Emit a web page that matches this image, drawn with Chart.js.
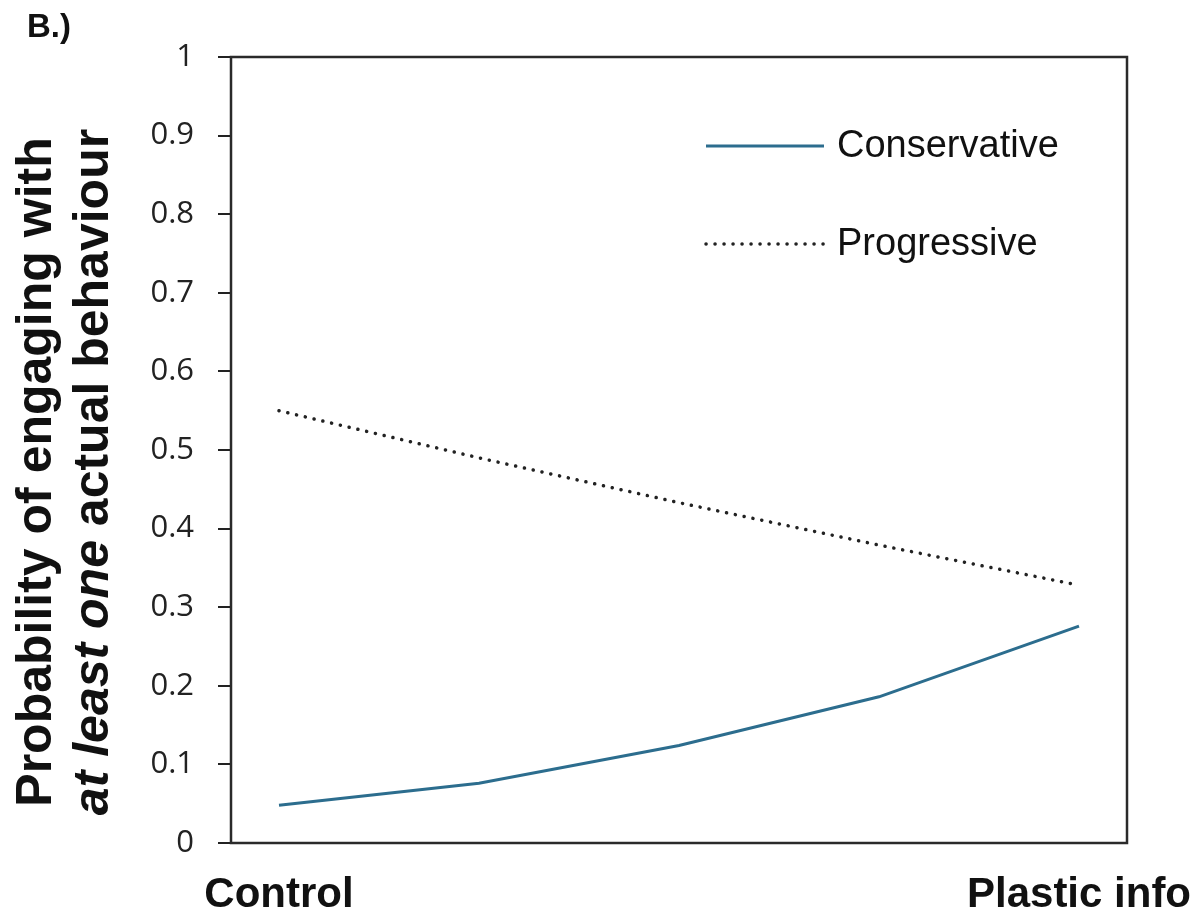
<!DOCTYPE html>
<html>
<head>
<meta charset="utf-8">
<script src="https://cdn.jsdelivr.net/npm/chart.js@4/dist/chart.umd.min.js"></script>
<style>
  body { margin: 0; background: #fff; }
  #wrap { width: 1202px; height: 914px; }
</style>
</head>
<body>
<div id="wrap"><canvas id="chart" width="1202" height="914"></canvas></div>
<script>
// categories (x positions between Control = 0 and Plastic info = 1)
const xLabels = ['Control', 'Plastic info'];
const xPos = [0, 0.25, 0.5, 0.75, 1];

// predicted probabilities
const conservative = [0.048, 0.076, 0.124, 0.186, 0.276];
const progressive = [0.55, 0.49, 0.433, 0.379, 0.328];

const seriesNames = ['Conservative', 'Progressive'];
const yTitle1 = 'Probability of engaging with';
const yTitle2a = 'at least one';
const yTitle2b = ' actual behaviour';
const panelLabel = 'B.)';

const ctx = document.querySelector('#chart').getContext('2d');

// frame round the plot + panel label + y title
const extras = {
    id: 'extras',
    afterDraw(chart) {
        const c = chart.ctx;
        const a = chart.chartArea;
        c.save();
        c.strokeStyle = '#2a2a2a';
        c.lineWidth = 2.5;
        c.strokeRect(a.left, a.top, a.right - a.left, a.bottom - a.top);

        c.fillStyle = '#111';
        c.font = 'bold 33px "Liberation Sans", Arial, sans-serif';
        c.textAlign = 'left';
        c.textBaseline = 'alphabetic';
        c.fillText(panelLabel, 27, 37);

        // rotated two-line title
        const cy = 472;
        const bold = 'bold 50px "Liberation Sans", Arial, sans-serif';
        const ital = 'italic bold 50px "Liberation Sans", Arial, sans-serif';
        c.save();
        c.translate(51, cy);
        c.rotate(-Math.PI / 2);
        c.font = bold;
        c.textAlign = 'center';
        c.fillText(yTitle1, 0, 0);
        c.restore();

        c.save();
        c.translate(108, cy);
        c.rotate(-Math.PI / 2);
        c.textAlign = 'left';
        c.font = ital;
        const w1 = c.measureText(yTitle2a).width;
        c.font = bold;
        const w2 = c.measureText(yTitle2b).width;
        let x0 = -(w1 + w2) / 2;
        c.font = ital;
        c.fillText(yTitle2a, x0, 0);
        c.font = bold;
        c.fillText(yTitle2b, x0 + w1, 0);
        c.restore();
        c.restore();
    }
};

// legend drawn inside the plot, top right
const insideLegend = {
    id: 'insideLegend',
    afterDraw(chart) {
        const c = chart.ctx;
        const rows = [146, 244];
        c.save();
        chart.data.datasets.forEach((ds, i) => {
            const y = rows[i];
            c.beginPath();
            c.strokeStyle = ds.borderColor;
            c.lineWidth = ds.borderWidth;
            c.lineCap = ds.borderCapStyle || 'butt';
            c.setLineDash(ds.borderDash || []);
            c.moveTo(706, y);
            c.lineTo(824, y);
            c.stroke();
            c.setLineDash([]);
            c.fillStyle = '#111';
            c.font = '38px "Liberation Sans", Arial, sans-serif';
            c.textAlign = 'left';
            c.textBaseline = 'middle';
            c.fillText(ds.label, 837, y + 1);
        });
        c.restore();
    }
};

new Chart(ctx, {
    type: 'line',
    data: {
        datasets: [
            {
                label: seriesNames[0],
                data: xPos.map((x, i) => ({ x: x, y: conservative[i] })),
                borderColor: '#2c6d8e',
                borderWidth: 3,
                pointRadius: 0,
                tension: 0,
                fill: false
            },
            {
                label: seriesNames[1],
                data: xPos.map((x, i) => ({ x: x, y: progressive[i] })),
                borderColor: '#222',
                borderWidth: 3.5,
                borderDash: [0.1, 8.9],
                borderCapStyle: 'round',
                pointRadius: 0,
                tension: 0,
                fill: false
            }
        ]
    },
    options: {
        responsive: false,
        animation: false,
        layout: { padding: { top: 57, right: 75, bottom: 0, left: 0 } },
        plugins: {
            legend: { display: false },
            tooltip: { enabled: false }
        },
        scales: {
            x: {
                type: 'linear',
                min: -0.06,
                max: 1.06,
                afterBuildTicks: (scale) => {
                    scale.ticks = [{ value: 0 }, { value: 1 }];
                },
                afterFit: (scale) => {
                    scale.height = 71;
                    scale.paddingLeft = 0;
                    scale.paddingRight = 0;
                },
                ticks: {
                    autoSkip: false,
                    maxRotation: 0,
                    padding: 27,
                    color: '#111',
                    font: { family: '"Liberation Sans", Arial, sans-serif', size: 42, weight: 'bold' },
                    callback: (v) => v === 0 ? xLabels[0] : (v === 1 ? xLabels[1] : '')
                },
                grid: { display: false, drawTicks: false },
                border: { display: false }
            },
            y: {
                min: 0,
                max: 1,
                afterFit: (scale) => { scale.width = 231; },
                ticks: {
                    stepSize: 0.1,
                    padding: 24,
                    color: '#222',
                    font: { family: '"Open Sans", sans-serif', size: 31 },
                    callback: (v) => String(Number(v.toFixed(1)))
                },
                grid: {
                    drawOnChartArea: false,
                    drawTicks: true,
                    tickLength: 13,
                    color: '#222',
                    lineWidth: 2
                },
                border: { display: false }
            }
        }
    },
    plugins: [extras, insideLegend]
});
</script>
</body>
</html>
